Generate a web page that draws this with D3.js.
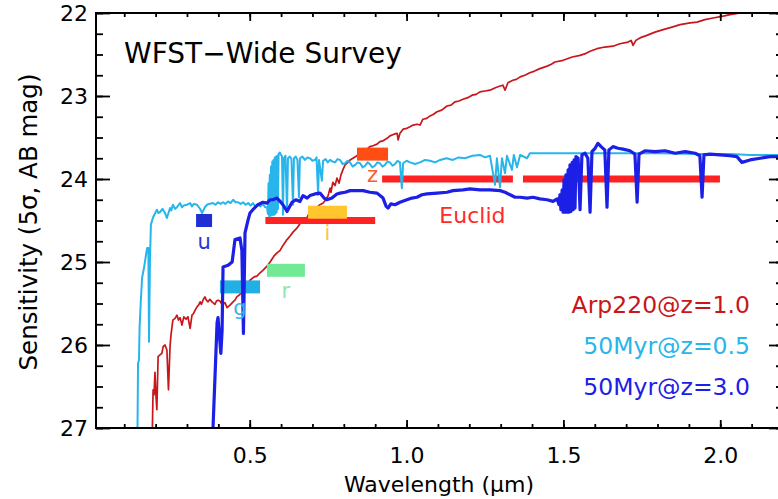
<!DOCTYPE html>
<html>
<head>
<meta charset="utf-8">
<script src="https://cdn.jsdelivr.net/npm/d3@7"></script>
<style>
  html, body { margin: 0; padding: 0; background: #fff; }
  svg { display: block; }
  text { font-family: "DejaVu Sans", sans-serif; }
</style>
</head>
<body>
<svg id="chart" width="778" height="499"></svg>
<script>
// ---------------- DATA ----------------
// wavelength (micron), 5-sigma sensitivity (AB mag)
const arp220 = [
  [0.189,27.15],[0.192,26.54],[0.195,26.60],[0.198,26.33],[0.201,26.60],[0.204,26.78],
  [0.208,26.14],[0.214,26.12],[0.220,26.10],[0.224,26.02],[0.230,26.00],[0.236,26.06],
  [0.241,26.54],[0.246,26.02],[0.249,25.88],[0.255,25.70],[0.262,25.68],[0.268,25.64],[0.273,25.70],[0.278,25.67],
  [0.284,25.76],[0.290,25.66],[0.297,25.69],[0.303,25.66],[0.310,25.80],[0.316,25.64],[0.321,25.62],[0.326,25.58],
  [0.332,25.54],[0.337,25.52],[0.342,25.48],[0.346,25.51],[0.351,25.46],[0.357,25.42],[0.362,25.46],[0.367,25.48],[0.373,25.45],[0.380,25.48],
  [0.389,25.51],[0.394,25.47],[0.399,25.46],[0.405,25.47],[0.410,25.50],[0.415,25.51],[0.421,25.49],[0.428,25.55],[0.437,25.52],
  [0.447,25.48],[0.453,25.46],[0.459,25.42],[0.469,25.39],[0.479,25.31],[0.485,25.30],[0.491,25.27],[0.501,25.22],
  [0.514,25.18],[0.523,25.17],[0.533,25.13],[0.542,25.10],[0.555,25.05],[0.565,25.00],
  [0.577,24.93],[0.587,24.89],[0.597,24.86],[0.606,24.80],[0.619,24.73],[0.628,24.69],
  [0.638,24.64],[0.651,24.59],[0.660,24.54],[0.670,24.52],[0.683,24.46],[0.692,24.40],
  [0.702,24.37],[0.715,24.34],[0.724,24.31],[0.734,24.29],[0.743,24.25],[0.750,24.20],
  [0.756,24.11],[0.759,24.16],[0.765,24.04],[0.772,24.08],[0.778,23.99],[0.785,24.05],
  [0.791,23.95],[0.797,23.89],[0.804,23.83],[0.813,23.80],[0.820,23.77],[0.829,23.75],
  [0.842,23.72],[0.852,23.67],[0.861,23.67],[0.874,23.64],[0.883,23.61],[0.893,23.60],
  [0.906,23.58],[0.915,23.55],[0.925,23.54],[0.938,23.51],[0.947,23.48],[0.960,23.46],
  [0.970,23.45],[0.973,23.53],[0.979,23.45],[0.989,23.40],[1.001,23.39],[1.011,23.37],
  [1.021,23.35],[1.033,23.34],[1.043,23.35],[1.052,23.28],[1.064,23.27],[1.075,23.24],[1.086,23.22],[1.097,23.19],
  [1.112,23.17],[1.129,23.12],[1.142,23.11],[1.154,23.07],[1.167,23.06],[1.180,23.04],[1.195,23.02],[1.209,22.99],[1.222,22.98],[1.234,22.95],[1.250,22.94],[1.266,22.93],
  [1.283,22.90],[1.298,22.88],[1.307,22.87],[1.314,22.93],[1.323,22.84],[1.339,22.81],[1.350,22.80],[1.362,22.77],
  [1.377,22.75],[1.393,22.72],[1.408,22.70],[1.425,22.67],[1.448,22.64],[1.460,22.62],[1.473,22.59],[1.499,22.57],[1.528,22.53],
  [1.553,22.51],[1.570,22.49],[1.585,22.46],[1.607,22.43],[1.632,22.41],[1.658,22.40],[1.680,22.37],
  [1.706,22.35],[1.716,22.33],[1.722,22.39],[1.731,22.33],[1.744,22.30],[1.766,22.27],
  [1.792,22.23],[1.818,22.20],[1.846,22.17],[1.872,22.14],[1.904,22.12],[1.926,22.11],
  [1.951,22.08],[1.977,22.06],[2.006,22.04],[2.031,22.02],[2.063,22.00],[2.088,21.98],
  [2.127,21.94]
];

const myr50z05 = [
  [0.142,27.15],[0.144,26.22],[0.147,26.18],[0.149,25.78],[0.153,25.46],[0.157,25.19],
  [0.163,25.07],[0.173,24.83],[0.177,24.83],[0.179,25.96],[0.182,24.98],[0.185,24.55],
  [0.192,24.46],[0.204,24.37],[0.209,24.41],[0.214,24.40],[0.222,24.36],[0.230,24.41],[0.236,24.47],[0.246,24.35],
  [0.250,24.38],[0.255,24.31],[0.262,24.36],[0.268,24.34],[0.278,24.29],[0.284,24.34],[0.290,24.32],[0.300,24.31],[0.310,24.29],
  [0.316,24.33],[0.322,24.30],[0.332,24.31],[0.342,24.36],[0.348,24.41],[0.357,24.34],[0.364,24.31],[0.370,24.30],
  [0.383,24.29],[0.391,24.31],[0.399,24.28],[0.407,24.30],[0.415,24.28],[0.423,24.30],[0.431,24.27],[0.439,24.29],[0.447,24.25],[0.455,24.28],[0.463,24.28],
  [0.471,24.30],[0.479,24.28],[0.487,24.31],[0.495,24.29],[0.503,24.32],[0.510,24.29],[0.518,24.33],[0.526,24.31],[0.534,24.33],[0.542,24.30],[0.549,24.34],[0.555,24.34],
  [0.558,24.42],[0.560,24.05],[0.562,24.45],[0.564,23.95],[0.566,24.44],[0.568,23.85],[0.570,24.44],[0.572,23.79],
  [0.574,24.43],[0.576,23.77],[0.578,24.43],[0.580,23.74],[0.582,24.42],[0.584,23.73],[0.586,24.40],[0.588,23.72],
  [0.590,24.36],[0.592,23.70],[0.596,23.68],[0.600,23.71],[0.603,23.73],[0.606,24.43],[0.609,23.75],[0.614,23.72],[0.619,24.40],[0.622,23.75],[0.628,23.73],
  [0.633,23.76],[0.638,24.31],[0.641,23.75],[0.647,23.73],[0.652,23.77],[0.657,24.22],[0.660,23.75],[0.668,23.73],[0.676,23.77],[0.684,23.74],[0.692,23.75],
  [0.700,23.78],[0.708,23.77],[0.713,23.74],[0.718,24.19],[0.721,23.77],[0.730,24.02],[0.734,23.78],[0.742,23.76],[0.749,23.80],[0.756,23.77],[0.764,23.79],
  [0.772,23.80],[0.780,23.76],[0.788,23.77],[0.796,23.82],[0.804,23.81],[0.812,23.78],[0.820,23.80],[0.828,23.85],[0.836,23.83],[0.844,23.80],[0.852,23.81],
  [0.860,23.86],[0.868,23.84],[0.876,23.80],[0.883,23.82],[0.891,23.86],[0.899,23.84],[0.907,23.80],[0.915,23.81],[0.923,23.85],[0.931,23.83],[0.939,23.79],[0.947,23.80],
  [0.955,23.84],[0.963,23.82],[0.971,23.78],[0.979,23.80],[0.985,24.11],[0.989,23.81],[1.000,23.78],[1.011,23.80],[1.027,23.82],[1.043,23.80],[1.059,23.77],
  [1.075,23.78],[1.091,23.80],[1.107,23.77],[1.127,23.75],[1.148,23.77],[1.166,23.74],[1.186,23.75],[1.210,23.72],[1.234,23.71],[1.250,23.74],[1.266,23.72],
  [1.282,24.07],[1.288,23.75],[1.298,24.10],[1.304,23.75],[1.314,23.93],[1.320,23.72],
  [1.336,23.89],[1.342,23.71],[1.352,23.86],[1.362,23.71],[1.384,23.75],[1.393,23.69],
  [1.457,23.69],[1.553,23.69],[1.680,23.69],[1.808,23.69],[1.935,23.70],[2.031,23.70],
  [2.095,23.71],[2.184,23.71],[2.222,23.71]
];

const myr50z3 = [
  [0.380,27.15],[0.383,27.00],[0.396,25.73],[0.399,25.67],[0.402,25.82],[0.408,26.10],
  [0.412,25.82],[0.415,25.06],[0.431,25.04],[0.444,25.00],[0.453,24.73],[0.469,24.71],
  [0.475,24.86],[0.480,25.86],[0.485,24.65],[0.495,24.49],[0.501,24.41],[0.510,24.37],
  [0.526,24.31],[0.542,24.28],[0.555,24.29],[0.565,24.25],[0.574,24.25],[0.587,24.23],
  [0.597,24.27],[0.606,24.31],[0.619,24.39],[0.635,24.28],[0.647,24.25],[0.660,24.27],
  [0.670,24.20],[0.683,24.23],[0.692,24.20],[0.708,24.18],[0.724,24.17],[0.737,24.23],
  [0.746,24.25],[0.762,24.23],[0.778,24.18],[0.788,24.17],[0.804,24.16],[0.820,24.14],
  [0.842,24.14],[0.861,24.14],[0.883,24.16],[0.906,24.17],[0.925,24.23],[0.935,24.33],
  [0.941,24.35],[0.950,24.30],[0.963,24.31],[0.979,24.28],[1.001,24.25],[1.017,24.23],
  [1.033,24.22],[1.049,24.19],[1.065,24.18],[1.097,24.17],[1.129,24.16],[1.148,24.14],
  [1.180,24.13],[1.202,24.12],[1.234,24.13],[1.266,24.13],[1.298,24.14],[1.314,24.16],
  [1.330,24.19],[1.346,24.22],[1.362,24.22],[1.384,24.23],[1.403,24.22],[1.425,24.24],
  [1.448,24.25],[1.467,24.27],[1.480,24.24],[1.486,24.31],[1.489,24.19],[1.492,24.37],
  [1.496,24.13],[1.499,24.40],[1.502,24.01],[1.505,24.40],[1.508,23.95],[1.512,24.40],
  [1.515,23.89],[1.518,24.40],[1.521,23.83],[1.524,24.39],[1.528,23.80],[1.531,24.37],
  [1.534,23.77],[1.537,24.35],[1.540,23.73],[1.547,23.75],[1.553,24.37],[1.559,23.71],
  [1.569,23.69],[1.578,23.75],[1.585,24.40],[1.591,23.67],[1.601,23.63],[1.610,23.57],
  [1.620,23.61],[1.632,23.65],[1.639,24.34],[1.645,23.65],[1.658,23.61],[1.674,23.63],
  [1.690,23.64],[1.712,23.66],[1.728,23.70],[1.735,24.28],[1.741,23.70],[1.760,23.66],
  [1.792,23.67],[1.824,23.66],[1.856,23.69],[1.888,23.67],[1.920,23.69],[1.935,23.72],
  [1.942,24.22],[1.948,23.71],[1.967,23.70],[1.999,23.71],[2.031,23.72],[2.053,23.73],
  [2.069,23.80],[2.095,23.77],[2.127,23.75],[2.159,23.73],[2.184,23.73],[2.222,23.73]
];

// WFST filters: name, wavelength range, limiting mag
const wfstNames = ["u", "g", "r", "i", "z"];
const wfstLo    = [0.329, 0.405, 0.555, 0.686, 0.842];
const wfstHi    = [0.380, 0.533, 0.676, 0.810, 0.941];
const wfstMag   = [24.5, 25.3, 25.1, 24.4, 23.7];

// Euclid bands
const euclidLo  = [0.550, 0.922, 1.371];
const euclidHi  = [0.900, 1.339, 1.999];
const euclidMag = [24.5, 24.0, 24.0];

const legendLabels = ["Arp220@z=1.0", "50Myr@z=0.5", "50Myr@z=3.0"];

const xMajorTicks = [0.5, 1.0, 1.5, 2.0];
const yMajorTicks = [22, 23, 24, 25, 26, 27];

// ---------------- STYLE ----------------
const C = {
  red: "#c8161a", light: "#27b5ec", blue: "#1c20e6",
  bands: ["#1f2fd4", "#22b0e4", "#72ea95", "#ffc62e", "#ff4d14"],
  labels: ["#2a34d4", "#35b6e6", "#8ee8a8", "#f2c848", "#ff5a2a"],
  euclid: "#ff2222"
};

const L = 96, T = 13, R = 783, B = 428;
const svg = d3.select("#chart");

const x = d3.scaleLinear().domain([0.01, 2.2]).range([L, R]);
const y = d3.scaleLinear().domain([22, 27]).range([T, B]);

svg.append("defs").append("clipPath").attr("id", "clip")
  .append("rect").attr("x", L).attr("y", T).attr("width", R - L).attr("height", B - T);

const plot = svg.append("g").attr("clip-path", "url(#clip)");

const line = d3.line().x(d => x(d[0])).y(d => y(d[1]));

// red spectrum (behind the bars)
plot.append("path").datum(arp220)
  .attr("d", line).attr("fill", "none").attr("stroke", C.red)
  .attr("stroke-width", 1.7).attr("stroke-linejoin", "round");

// Euclid bars
plot.selectAll(".eu").data(euclidLo).enter().append("rect")
  .attr("x", (d, i) => x(euclidLo[i]))
  .attr("width", (d, i) => x(euclidHi[i]) - x(euclidLo[i]))
  .attr("y", (d, i) => y(euclidMag[i]) - 3.5)
  .attr("height", 7)
  .attr("fill", C.euclid);

// WFST band boxes
plot.selectAll(".wf").data(wfstNames).enter().append("rect")
  .attr("x", (d, i) => x(wfstLo[i]))
  .attr("width", (d, i) => x(wfstHi[i]) - x(wfstLo[i]))
  .attr("y", (d, i) => y(wfstMag[i]) - 6.5)
  .attr("height", 13)
  .attr("fill", (d, i) => C.bands[i]);

// light blue spectrum
plot.append("path").datum(myr50z05)
  .attr("d", line).attr("fill", "none").attr("stroke", C.light)
  .attr("stroke-width", 2).attr("stroke-linejoin", "round");

// dark blue spectrum
plot.append("path").datum(myr50z3)
  .attr("d", line).attr("fill", "none").attr("stroke", C.blue)
  .attr("stroke-width", 3.2).attr("stroke-linejoin", "round");

// band labels
svg.selectAll(".wl").data(wfstNames).enter().append("text")
  .attr("x", (d, i) => x((wfstLo[i] + wfstHi[i]) / 2))
  .attr("y", (d, i) => y(wfstMag[i]) + 28)
  .attr("text-anchor", "middle")
  .attr("font-size", 21)
  .attr("fill", (d, i) => C.labels[i])
  .text(d => d);

svg.append("text")
  .attr("x", x(1.21)).attr("y", y(24.5) + 2)
  .attr("text-anchor", "middle").attr("font-size", 22)
  .attr("fill", "#ff2a2a").text("Euclid");

// ---------------- AXES ----------------
const xMinor = d3.range(1, 23).map(v => v / 10);
const yMinor = d3.range(0, 21).map(v => 22 + v * 0.25);

function styleAxis(g) {
  g.selectAll(".domain").remove();
  g.selectAll("line").attr("stroke", "#000").attr("stroke-width", 1.8);
  g.selectAll("text").attr("font-family", "DejaVu Sans").attr("fill", "#000");
}

svg.append("g").attr("transform", `translate(0,${B})`)
  .call(d3.axisBottom(x).tickValues(xMinor).tickSize(-4).tickFormat(""))
  .call(styleAxis);
svg.append("g").attr("transform", `translate(0,${B})`)
  .call(d3.axisBottom(x).tickValues(xMajorTicks).tickSize(-8).tickPadding(19)
    .tickFormat(d3.format(".1f")))
  .call(styleAxis)
  .selectAll("text").attr("font-size", 22);

svg.append("g").attr("transform", `translate(0,${T})`)
  .call(d3.axisTop(x).tickValues(xMinor).tickSize(-4).tickFormat(""))
  .call(styleAxis);
svg.append("g").attr("transform", `translate(0,${T})`)
  .call(d3.axisTop(x).tickValues(xMajorTicks).tickSize(-8).tickFormat(""))
  .call(styleAxis);

svg.append("g").attr("transform", `translate(${L},0)`)
  .call(d3.axisLeft(y).tickValues(yMinor).tickSize(-7).tickFormat(""))
  .call(styleAxis);
svg.append("g").attr("transform", `translate(${L},0)`)
  .call(d3.axisLeft(y).tickValues(yMajorTicks).tickSize(-14).tickPadding(8)
    .tickFormat(d3.format("d")))
  .call(styleAxis)
  .selectAll("text").attr("font-size", 22);

svg.append("g").attr("transform", `translate(${R},0)`)
  .call(d3.axisRight(y).tickValues(yMinor).tickSize(-7).tickFormat(""))
  .call(styleAxis);
svg.append("g").attr("transform", `translate(${R},0)`)
  .call(d3.axisRight(y).tickValues(yMajorTicks).tickSize(-14).tickFormat(""))
  .call(styleAxis);

// frame
svg.append("rect").attr("x", L).attr("y", T).attr("width", R - L).attr("height", B - T)
  .attr("fill", "none").attr("stroke", "#000").attr("stroke-width", 2);

// titles
svg.append("text").attr("x", 124).attr("y", 63).attr("font-size", 28).attr("fill", "#000")
  .text("WFST\u2212Wide Survey");

svg.append("text").attr("x", 439).attr("y", 492).attr("text-anchor", "middle")
  .attr("font-size", 22).attr("fill", "#000").text("Wavelength (\u03bcm)");

svg.append("text").attr("transform", "translate(37,222) rotate(-90)")
  .attr("text-anchor", "middle").attr("font-size", 24.5).attr("fill", "#000")
  .text("Sensitivity (5\u03c3, AB mag)");

// legend
const legColors = [C.red, C.light, C.blue];
svg.selectAll(".leg").data(legendLabels).enter().append("text")
  .attr("x", 750).attr("y", (d, i) => 313 + i * 41)
  .attr("text-anchor", "end").attr("font-size", 23.5)
  .attr("fill", (d, i) => legColors[i]).text(d => d);
</script>
</body>
</html>
